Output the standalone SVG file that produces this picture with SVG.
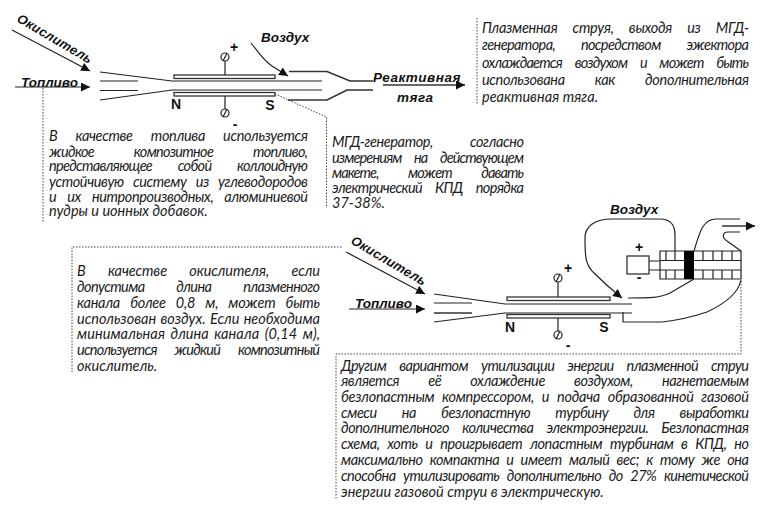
<svg xmlns="http://www.w3.org/2000/svg" width="761" height="509" viewBox="0 0 761 509">
<style>
.l{fill:none;stroke:#222;stroke-width:1.2}
.t{fill:none;stroke:#333;stroke-width:1.6}
.d{fill:none;stroke:#444;stroke-width:1;stroke-dasharray:1.5 1.5}
.e{fill:#fff;stroke:#333;stroke-width:1.3}
.b{font:italic 14.5px Lato,"Open Sans",sans-serif;fill:#1a1a1a}
.h{font:italic bold 13.5px "Liberation Sans",sans-serif;fill:#111}
.o{font-size:13px;letter-spacing:.25px}
.p{font:bold 14px "Liberation Sans",sans-serif;fill:#111}
</style>
<defs>
<marker id="a" markerUnits="userSpaceOnUse" markerWidth="10" markerHeight="10" refX="9" refY="4.5" orient="auto"><path d="M0 0L9 4.5L0 9z" fill="#111"/></marker>
</defs>
<rect width="761" height="509" fill="#fff"/>
<g id="connectors">
<path class="d" d="M43 88V222"/>
<path class="d" d="M275 94L326.500 117V208"/>
<path class="d" d="M477 18V105"/>
<path class="d" d="M72 372V247H342"/>
<path class="d" d="M741 281V354H336V500"/>
<path class="l" d="M12 30L90 71" marker-end="url(#a)"/>
<path class="l" d="M15 87H90" marker-end="url(#a)"/>
<path class="l" d="M251 43C259 53 264 61 272 66L288 76" marker-end="url(#a)"/>
<path class="t" d="M383 85H465" marker-end="url(#a)"/>
<path class="l" d="M346 252L425 294" marker-end="url(#a)"/>
<path class="l" d="M349 309H425" marker-end="url(#a)"/>
<path class="l" d="M675 251V235C675 224 670 219 660 219H612C595 219 585 226 585 238C585 255 585 265 594 273C603 282 612 290 622 298" marker-end="url(#a)"/>
<path class="t" d="M722 226H755" marker-end="url(#a)"/>
</g>
<g id="engine-top">
<path class="l" d="M100 72L172 81H322M100 100L172 90H322M100 81H138M100 90.500H138"/>
<path class="t" d="M289 71.500H327L350 81H373M288 100H327L347 90H373"/>
<rect class="e" x="174" y="75" width="101" height="3.500"/>
<rect class="e" x="174" y="92.500" width="101" height="3.500"/>
<path class="l" d="M223 61L227 53M225 61V75M225 96V109M223 117L227 109"/>
<circle class="l" cx="225" cy="57" r="4"/>
<circle class="l" cx="225" cy="113" r="4"/>
<text class="p" x="234" y="52" text-anchor="middle">+</text>
<text class="p" x="235" y="129" text-anchor="middle">-</text>
<text class="p" x="176" y="109" text-anchor="middle">N</text>
<text class="p" x="270" y="110" text-anchor="middle">S</text>
</g>
<g id="engine-bottom">
<path class="l" d="M434 294L505 304H632M434 322L505 313H632"/>
<path class="t" d="M434 313H472"/>
<path class="l" d="M434 303H472"/>
<rect class="e" x="507" y="297" width="103" height="3.500"/>
<rect class="e" x="507" y="314.500" width="103" height="3.500"/>
<path class="l" d="M556 282L560 274M558 282V297M558 318V331M556 339L560 331"/>
<circle class="l" cx="558" cy="278" r="4"/>
<circle class="l" cx="558" cy="335" r="4"/>
<text class="p" x="568" y="273" text-anchor="middle">+</text>
<text class="p" x="568" y="350" text-anchor="middle">-</text>
<text class="p" x="510" y="332" text-anchor="middle">N</text>
<text class="p" x="604" y="332" text-anchor="middle">S</text>
</g>
<g id="turbine">
<rect class="l" x="627" y="256" width="22" height="18"/>
<text class="p" x="639" y="252" text-anchor="middle">+</text>
<text class="p" x="639" y="282" text-anchor="middle">-</text>
<path class="l" d="M649 261H660M649 270H660M660 251H741V279H660ZM660 260.500H741M660 270H741M666 251V260.500M675 251V260.500M703 251V260.500M713 251V260.500M722 251V260.500M732 251V260.500M666 270V279M675 270V279M703 270V279M713 270V279M722 270V279M732 270V279"/>
<rect x="684" y="251" width="10" height="28" fill="#000"/>
<path class="l" d="M694 251C699 235 702 219 716 219H740M740 232H728C722 232 722 238 727 241L741 251"/>
<path class="l" d="M694 279L670 293C660 298 650 298 628 298M623 312V322H662C680 320 695 316 707 312C722 305 738 295 741 280"/>
</g>
<g id="labels">
<text class="h o" transform="translate(16 21) rotate(30.500)">Окислитель</text>
<text class="h" x="21" y="87">Топливо</text>
<text class="h" x="261" y="42">Воздух</text>
<text class="h" x="373" y="82" style="letter-spacing:.5px">Реактивная</text>
<text class="h" x="397" y="102" style="letter-spacing:.5px">тяга</text>
<text class="h o" transform="translate(350 243) rotate(30.500)">Окислитель</text>
<text class="h" x="355" y="308">Топливо</text>
<text class="h" x="610" y="214">Воздух</text>
</g>
<g id="note-fuel" class="b">
<text x="49" y="141" word-spacing="15" textLength="259">В качестве топлива используется</text>
<text x="49" y="157" word-spacing="37" textLength="259">жидкое композитное топливо,</text>
<text x="49" y="171" word-spacing="23" textLength="259">представляющее собой коллоидную</text>
<text x="49" y="187" word-spacing="6" textLength="259">устойчивую систему из углеводородов</text>
<text x="49" y="202" word-spacing="8" textLength="259">и их нитропроизводных, алюминиевой</text>
<text x="49" y="216">пудры и ионных добавок.</text>
</g>
<g id="note-jet" class="b">
<text x="482" y="33" word-spacing="12" textLength="267">Плазменная струя, выходя из МГД-</text>
<text x="482" y="50" word-spacing="23" textLength="267">генератора, посредством эжектора</text>
<text x="482" y="68" word-spacing="10" textLength="267">охлаждается воздухом и может быть</text>
<text x="482" y="85" word-spacing="27" textLength="267">использована как дополнительная</text>
<text x="482" y="102">реактивная тяга.</text>
</g>
<g id="note-mhd" class="b">
<text x="332" y="147" word-spacing="34" textLength="192">МГД-генератор, согласно</text>
<text x="332" y="162.500" word-spacing="10" textLength="192">измерениям на действующем</text>
<text x="332" y="178" word-spacing="27" textLength="192">макете, может давать</text>
<text x="332" y="193" word-spacing="10" textLength="192">электрический КПД порядка</text>
<text x="332" y="208">37-38%.</text>
</g>
<g id="note-oxidizer" class="b">
<text x="77" y="276" word-spacing="19" textLength="243">В качестве окислителя, если</text>
<text x="77" y="292" word-spacing="29" textLength="243">допустима длина плазменного</text>
<text x="77" y="308" word-spacing="7" textLength="243">канала более 0,8 м, может быть</text>
<text x="77" y="324" word-spacing="1" textLength="243">использован воздух. Если необходима</text>
<text x="77" y="339" word-spacing="2" textLength="243">минимальная длина канала (0,14 м),</text>
<text x="77" y="355" word-spacing="15" textLength="243">используется жидкий композитный</text>
<text x="77" y="371">окислитель.</text>
</g>
<g id="note-turbine" class="b">
<text x="341" y="371" word-spacing="10" textLength="408">Другим вариантом утилизации энергии плазменной струи</text>
<text x="341" y="386" word-spacing="26" textLength="408">является её охлаждение воздухом, нагнетаемым</text>
<text x="341" y="402" word-spacing="4.600" textLength="408">безлопастным компрессором, и подача образованной газовой</text>
<text x="341" y="418" word-spacing="22" textLength="408">смеси на безлопастную турбину для выработки</text>
<text x="341" y="433" word-spacing="10" textLength="408">дополнительного количества электроэнергии. Безлопастная</text>
<text x="341" y="449" word-spacing="4.600" textLength="408">схема, хоть и проигрывает лопастным турбинам в КПД, но</text>
<text x="341" y="465" word-spacing="4" textLength="408">максимально компактна и имеет малый вес; к тому же она</text>
<text x="341" y="481" word-spacing="4.600" textLength="408">способна утилизировать дополнительно до 27% кинетической</text>
<text x="341" y="497">энергии газовой струи в электрическую.</text>
</g>
</svg>
